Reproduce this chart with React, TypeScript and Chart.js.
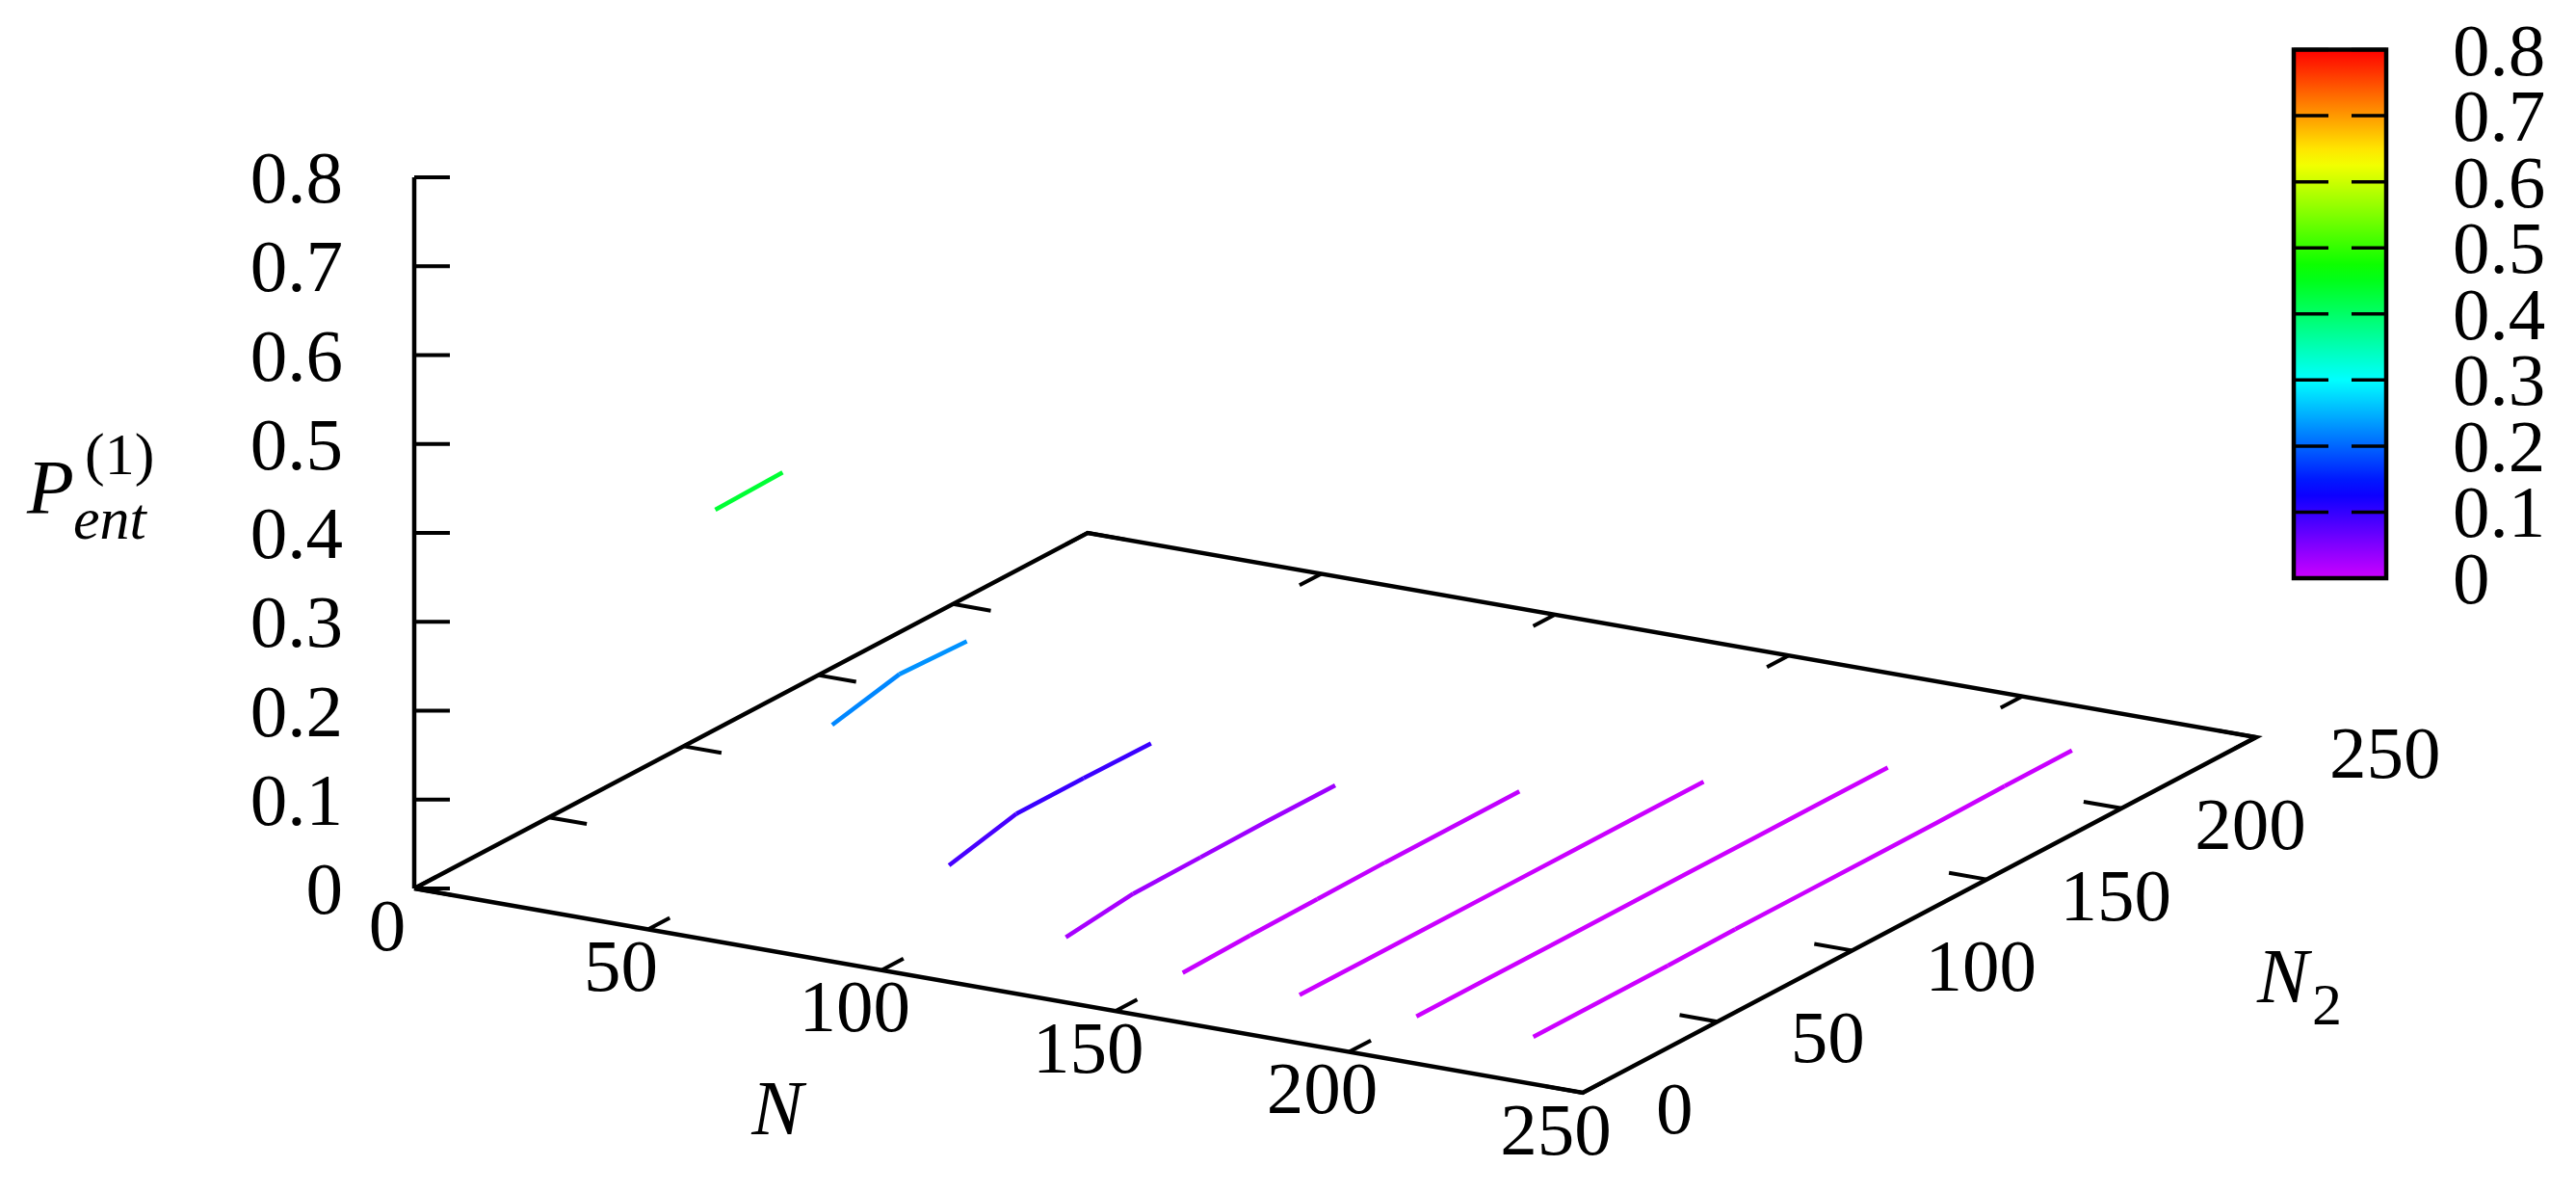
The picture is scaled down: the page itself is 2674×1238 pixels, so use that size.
import { useEffect, useRef } from "react";
import { Chart, registerables } from "chart.js";

Chart.register(...registerables);

const W = 2674;
const H = 1238;

// ---------- data ----------
const nRange = [0, 250];
const n2Range = [0, 250];
const zRange = [0, 0.8];

const n2Values = [25, 50, 75, 100, 125, 150, 175, 200, 225];

const pEntN50 = [0.432, 0.434];
const pEntN75 = [0.213, 0.230, 0.227];
const pEntN100 = [0.078, 0.096, 0.096, 0.095];
const pEntN125 = [0.020, 0.029, 0.030, 0.031, 0.031];
const pEntN150 = [0.003, 0.005, 0.006, 0.007, 0.007, 0.007];
const pEntN175 = [0.001, 0.001, 0.001, 0.001, 0.001, 0.001, 0.001];
const pEntN200 = [0.000, 0.000, 0.000, 0.000, 0.000, 0.000, 0.000, 0.000];
const pEntN225 = [0.000, 0.000, 0.000, 0.001, 0.001, 0.001, 0.001, 0.002, 0.002];

const seriesN = [50, 75, 100, 125, 150, 175, 200, 225];
const seriesZ = [pEntN50, pEntN75, pEntN100, pEntN125, pEntN150, pEntN175, pEntN200, pEntN225];

const nTicks = [0, 50, 100, 150, 200, 250];
const nTickLabels = ["0", "50", "100", "150", "200", "250"];
const n2Ticks = [0, 50, 100, 150, 200, 250];
const n2TickLabels = ["0", "50", "100", "150", "200", "250"];
const zTicks = [0, 0.1, 0.2, 0.3, 0.4, 0.5, 0.6, 0.7, 0.8];
const zTickLabels = ["0", "0.1", "0.2", "0.3", "0.4", "0.5", "0.6", "0.7", "0.8"];
const cbTicks = [0, 0.1, 0.2, 0.3, 0.4, 0.5, 0.6, 0.7, 0.8];
const cbTickLabels = ["0", "0.1", "0.2", "0.3", "0.4", "0.5", "0.6", "0.7", "0.8"];

// ---------- view / layout ----------
const VIEW = { ox: 430, oy: 922, nx: 4.852, ny: 0.848, mx: 2.796, my: -1.476, zy: -922.5 };
const TICK3D = 8.1; // tick length in axis units
const ZTICK_PX = 37;
const CB = { left: 2381, right: 2477, top: 51.5, bottom: 600, tickLen: 36 };
const FONT = '"Liberation Serif", "Times New Roman", serif';

function proj(n: number, n2: number, z: number) {
  return {
    x: VIEW.ox + VIEW.nx * n + VIEW.mx * n2,
    y: VIEW.oy + VIEW.ny * n + VIEW.my * n2 + VIEW.zy * z,
  };
}

function palette(v: number) {
  const t = Math.max(0, Math.min(1, (v - zRange[0]) / (zRange[1] - zRange[0])));
  const h = 288 * (1 - t);
  const f = (k: number) => {
    const kk = (k + h / 60) % 6;
    return 1 - Math.max(0, Math.min(kk, 4 - kk, 1));
  };
  const r = Math.round(255 * f(5));
  const g = Math.round(255 * f(3));
  const b = Math.round(255 * f(1));
  return `rgb(${r},${g},${b})`;
}

const GAP = { x: NaN, y: NaN };

export default function App() {
  const ref = useRef<HTMLCanvasElement | null>(null);

  useEffect(() => {
    document.body.style.margin = "0";
    document.body.style.overflow = "hidden";
    const canvas = ref.current;
    if (!canvas) return;

    const dataSets: any[] = seriesN.map((n, si) => {
      const zs = seriesZ[si];
      return {
        label: `N=${n}`,
        data: zs.map((z, i) => proj(n, n2Values[i], z)),
        showLine: true,
        borderWidth: 4.5,
        pointRadius: 0,
        borderColor: palette(zs[0]),
        borderCapStyle: "butt",
        borderJoinStyle: "round",
        segment: {
          borderColor: (ctx: any) => palette((zs[ctx.p0DataIndex] + zs[ctx.p1DataIndex]) / 2),
        },
      };
    });

    // box at the base
    const box = [
      proj(nRange[0], n2Range[0], zRange[0]),
      proj(nRange[1], n2Range[0], zRange[0]),
      proj(nRange[1], n2Range[1], zRange[0]),
      proj(nRange[0], n2Range[1], zRange[0]),
      proj(nRange[0], n2Range[0], zRange[0]),
    ];
    dataSets.push({
      label: "box",
      data: box,
      showLine: true,
      borderWidth: 4.5,
      pointRadius: 0,
      borderColor: "#000",
      borderJoinStyle: "miter",
    });
    // z axis
    dataSets.push({
      label: "zaxis",
      data: [proj(nRange[0], n2Range[0], zRange[0]), proj(nRange[0], n2Range[0], zRange[1])],
      showLine: true,
      borderWidth: 4.5,
      pointRadius: 0,
      borderColor: "#000",
    });
    // ticks
    const ticks: any[] = [];
    nTicks.forEach((n) => {
      ticks.push(proj(n, n2Range[0], 0), proj(n, n2Range[0] + TICK3D, 0), GAP);
      ticks.push(proj(n, n2Range[1], 0), proj(n, n2Range[1] - TICK3D, 0), GAP);
    });
    n2Ticks.forEach((m) => {
      ticks.push(proj(nRange[0], m, 0), proj(nRange[0] + TICK3D, m, 0), GAP);
      ticks.push(proj(nRange[1], m, 0), proj(nRange[1] - TICK3D, m, 0), GAP);
    });
    zTicks.forEach((z) => {
      const p = proj(nRange[0], n2Range[0], z);
      ticks.push(p, { x: p.x + ZTICK_PX, y: p.y }, GAP);
    });
    dataSets.push({
      label: "ticks",
      data: ticks,
      showLine: true,
      borderWidth: 4,
      pointRadius: 0,
      borderColor: "#000",
      spanGaps: false,
    });

    const textPlugin = {
      id: "gnuplotText",
      afterDatasetsDraw(chart: any) {
        const c = chart.ctx as CanvasRenderingContext2D;
        const xs = chart.scales.x;
        const ys = chart.scales.y;
        const px = (p: { x: number; y: number }) => ({ x: xs.getPixelForValue(p.x), y: ys.getPixelForValue(p.y) });
        c.save();
        c.fillStyle = "#000";
        c.textBaseline = "alphabetic";
        c.font = `77px ${FONT}`;

        // N tick labels
        c.textAlign = "center";
        nTicks.forEach((n, i) => {
          const p = px(proj(n, n2Range[0], 0));
          c.fillText(nTickLabels[i], p.x - 28, p.y + 63.5);
        });
        // N2 tick labels
        c.textAlign = "left";
        n2Ticks.forEach((m, i) => {
          const p = px(proj(nRange[1], m, 0));
          c.fillText(n2TickLabels[i], p.x + 76, p.y + 42);
        });
        // z tick labels
        c.textAlign = "right";
        zTicks.forEach((z, i) => {
          const p = px(proj(nRange[0], n2Range[0], z));
          c.fillText(zTickLabels[i], p.x - 74, p.y + 26);
        });

        // colour box
        const cbY = (v: number) => CB.bottom + (CB.top - CB.bottom) * ((v - zRange[0]) / (zRange[1] - zRange[0]));
        const grad = c.createLinearGradient(0, CB.bottom, 0, CB.top);
        for (let k = 0; k <= 32; k++) {
          const v = zRange[0] + ((zRange[1] - zRange[0]) * k) / 32;
          grad.addColorStop(k / 32, palette(v));
        }
        c.fillStyle = grad;
        c.fillRect(CB.left, CB.top, CB.right - CB.left, CB.bottom - CB.top);
        c.strokeStyle = "#000";
        c.lineWidth = 3.5;
        c.beginPath();
        cbTicks.forEach((v) => {
          const y = cbY(v);
          c.moveTo(CB.left, y);
          c.lineTo(CB.left + CB.tickLen, y);
          c.moveTo(CB.right, y);
          c.lineTo(CB.right - CB.tickLen, y);
        });
        c.stroke();
        c.lineWidth = 4.5;
        c.lineJoin = "miter";
        c.strokeRect(CB.left, CB.top, CB.right - CB.left, CB.bottom - CB.top);
        c.fillStyle = "#000";
        c.textAlign = "left";
        cbTicks.forEach((v, i) => {
          c.fillText(cbTickLabels[i], 2546, cbY(v) + 26);
        });

        // axis titles
        c.font = `italic 80px ${FONT}`;
        c.textAlign = "center";
        c.fillText("N", 807, 1177);
        c.textAlign = "left";
        c.fillText("N", 2343, 1040);
        c.font = `62px ${FONT}`;
        c.fillText("2", 2400, 1063);

        c.font = `italic 80px ${FONT}`;
        c.fillText("P", 28, 533);
        c.font = `62px ${FONT}`;
        c.fillText("(1)", 88, 492);
        c.font = `italic 62px ${FONT}`;
        c.fillText("ent", 76, 559);
        c.restore();
      },
    };

    const chart = new Chart(canvas, {
      type: "scatter",
      data: { datasets: dataSets },
      options: {
        animation: false,
        responsive: false,
        devicePixelRatio: 1,
        layout: { padding: 0 },
        events: [],
        plugins: { legend: { display: false }, tooltip: { enabled: false }, title: { display: false } },
        scales: {
          x: { type: "linear", min: 0, max: W, display: false },
          y: { type: "linear", min: 0, max: H, reverse: true, display: false },
        },
      } as any,
      plugins: [textPlugin],
    });
    return () => chart.destroy();
  }, []);

  return (
    <div style={{ width: W, height: H, background: "#fff" }}>
      <canvas ref={ref} width={W} height={H} style={{ display: "block", width: W, height: H }} />
    </div>
  );
}
